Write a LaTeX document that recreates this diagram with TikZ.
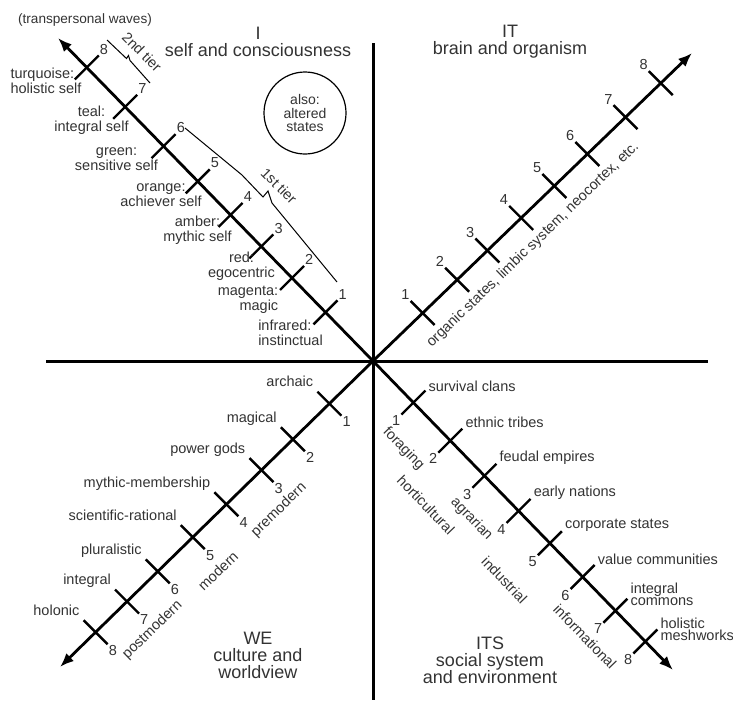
\documentclass[tikz,border=0pt]{standalone}
\usepackage{fontspec}
\setmainfont{Liberation Sans}
\usetikzlibrary{positioning}
\usetikzlibrary{calc}
\usetikzlibrary{arrows.meta}

\begin{document}
\begin{tikzpicture}
	[x=1pt, y=-1pt,
	quadline/.style={line width=3pt},
	waveline/.style={line width=2.8pt, -{Latex[length=14pt,width=11pt]}},
	tickline/.style={line width=2.4pt},
	tierline/.style={line width=1pt},
	numstyle/.style={font=\fontsize{14.5}{15}\selectfont, text=black!80, inner sep=1pt},
	namestyle/.style={font=\fontsize{14.5}{15}\selectfont, text=black!80, inner sep=0pt},
	slopestyle/.style={font=\fontsize{14.5}{15}\selectfont, text=black!80, inner sep=0pt},
	headstyle/.style={font=\fontsize{18}{17}\selectfont, text=black!80, align=center, inner sep=0pt}
	]

	\useasboundingbox (0,0) rectangle (733,702);

	%Set params
	\def\tickoff{12}

	%quadrant lines
	\coordinate (O) at (373,361);
	\coordinate (vTop) at (373,43);
	\coordinate (vBot) at (373,700);
	\coordinate (hLeft) at (46,361);
	\coordinate (hRight) at (708,361);
	\draw[quadline] (vTop) -- (vBot);
	\draw[quadline] (hLeft) -- (hRight);

	%headings
	\node(I)[headstyle, anchor=north] at (258,27) {I\\self and consciousness};
	\node(IT)[headstyle, anchor=north] at (510,25) {IT\\brain and organism};
	\node(WE)[headstyle, anchor=north] at (258,632) {WE\\culture and\\worldview};
	\node(ITS)[headstyle, anchor=north] at (490,637) {ITS\\social system\\and environment};
	\node(transp)[namestyle, font=\fontsize{13.6}{15}\selectfont] at (85,20) {(transpersonal waves)};
	\node(altered)[namestyle, circle, draw, line width=1.2pt, minimum size=82pt, align=center,
		font=\fontsize{14}{13.5}\selectfont] at (305,113) {also:\\altered\\states};

	%I: self
	\coordinate (tipI) at (58,38);
	\draw[waveline] (O) -- (tipI);
	\foreach \k/\d in {1/68,2/116,3/160,4/204,5/251,6/300,7/355,8/410}{
		\coordinate (selfT\k) at ($(O)!\d pt!(tipI)$);
		\draw[tickline] ($(selfT\k)+(-\tickoff,\tickoff)$) coordinate (selfA\k)
			-- ($(selfT\k)+(\tickoff,-\tickoff)$) coordinate (selfB\k);
		\node(selfN\k)[numstyle, anchor=south west] at (selfB\k) {\k};
	}
	\foreach \n/\x/\y/\al/\txt in {
		8/46/81/left/{turquoise:\\holistic self},
		7/91.5/120/center/{teal:\\integral self},
		6/116.5/159.5/center/{green:\\sensitive self},
		5/161/195.5/center/{orange:\\achiever self},
		4/197.5/230.5/center/{amber:\\mythic self},
		3/241.5/266/center/{red:\\egocentric},
		2/248/300/right/{magenta:\\magic},
		1/290.5/332.5/left/{infrared:\\instinctual}}
		\node(selfL\n)[namestyle, align=\al] at (\x,\y) {\txt};

	%tiers
	\draw[tierline] (107,40) -- (126.5,58.5) -- (128.5,55.5) -- (130,60.5) -- (150,83);
	\draw[tierline] (185,128) -- (242,175) -- (263,197) -- (268,191) -- (272,203) -- (337,282);
	\node(tierTwo)[slopestyle, rotate=-45] at (142,52) {2nd tier};
	\node(tierOne)[slopestyle, rotate=-45] at (279,186) {1st tier};

	%IT: brain
	\coordinate (tipIT) at (692,53);
	\draw[waveline] (O) -- (tipIT);
	\foreach \k/\d in {1/69,2/117,3/159,4/206,5/252,6/298,7/351,8/400}{
		\coordinate (brainT\k) at ($(O)!\d pt!(tipIT)$);
		\draw[tickline] ($(brainT\k)+(-\tickoff,-\tickoff)$) coordinate (brainA\k)
			-- ($(brainT\k)+(\tickoff,\tickoff)$) coordinate (brainB\k);
		\node(brainN\k)[numstyle, anchor=south east] at (brainA\k) {\k};
	}
	\node(organic)[slopestyle, rotate=44] at (533,245) {organic states, limbic system, neocortex, etc.};

	%WE: culture
	\coordinate (tipWE) at (60,667);
	\draw[waveline] (O) -- (tipWE);
	\foreach \k/\d/\txt in {1/61/archaic, 2/112/magical, 3/156/power gods, 4/205/mythic-membership,
		5/252/scientific-rational, 6/301/pluralistic, 7/344/integral, 8/388/holonic}{
		\coordinate (cultT\k) at ($(O)!\d pt!(tipWE)$);
		\draw[tickline] ($(cultT\k)+(-\tickoff,-\tickoff)$) coordinate (cultA\k)
			-- ($(cultT\k)+(\tickoff,\tickoff)$) coordinate (cultB\k);
		\node(cultN\k)[numstyle, anchor=north west] at (cultB\k) {\k};
		\node(cultL\k)[namestyle, anchor=base east, shift={(-4,-5)}] at (cultA\k) {\txt};
	}
	\node(premodern)[slopestyle, rotate=44] at (279,510) {premodern};
	\node(modern)[slopestyle, rotate=44] at (218,571) {modern};
	\node(postmodern)[slopestyle, rotate=44] at (152.5,630) {postmodern};

	%ITS: social
	\coordinate (tipITS) at (673,670);
	\draw[waveline] (O) -- (tipITS);
	\foreach \k/\d/\dy/\txt in {1/58/-4/survival clans, 2/111/-6/ethnic tribes, 3/160/-6/feudal empires,
		4/209/-6/early nations, 5/254/-6/corporate states, 6/301/-6/value communities,
		7/348/-4/{integral\\commons}, 8/391/0/{holistic\\meshworks}}{
		\coordinate (socT\k) at ($(O)!\d pt!(tipITS)$);
		\draw[tickline] ($(socT\k)+(\tickoff,-\tickoff)$) coordinate (socA\k)
			-- ($(socT\k)+(-\tickoff,\tickoff)$) coordinate (socB\k);
		\node(socN\k)[numstyle, anchor=north east] at (socB\k) {\k};
		\node(socL\k)[namestyle, align=left, font=\fontsize{14.5}{12}\selectfont,
			anchor=west, shift={(3,\dy)}] at (socA\k) {\txt};
	}
	\node(foraging)[slopestyle, rotate=-46] at (403.5,449) {foraging};
	\node(horti)[slopestyle, rotate=-46] at (426,505) {horticultural};
	\node(agrarian)[slopestyle, rotate=-46] at (471.5,519) {agrarian};
	\node(industrial)[slopestyle, rotate=-46] at (504.5,580) {industrial};
	\node(informational)[slopestyle, rotate=-46] at (585,636.5) {informational};

\end{tikzpicture}
\end{document}
